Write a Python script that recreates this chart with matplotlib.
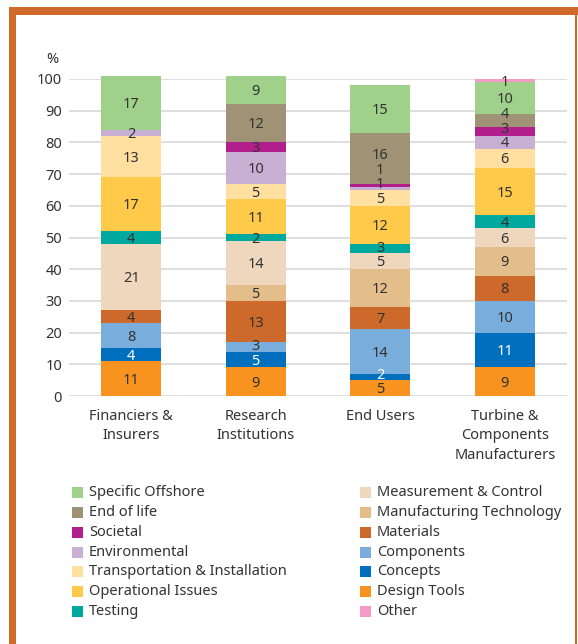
import matplotlib
matplotlib.use("Agg")
import matplotlib.pyplot as plt
from matplotlib.patches import Rectangle
import numpy as np

plt.rcParams['font.family'] = ['Noto Sans', 'DejaVu Sans']

categories = ["Financiers &\nInsurers", "Research\nInstitutions", "End Users",
              "Turbine &\nComponents\nManufacturers"]

# stacking order: bottom -> top
series = ["Design Tools", "Concepts", "Components", "Materials",
          "Manufacturing Technology", "Measurement & Control", "Testing",
          "Operational Issues", "Transportation & Installation", "Environmental",
          "Societal", "End of life", "Specific Offshore", "Other"]

design_tools   = [11, 9, 5, 9]
concepts       = [4, 5, 2, 11]
components     = [8, 3, 14, 10]
materials      = [4, 13, 7, 8]
manufacturing  = [0, 5, 12, 9]
measurement    = [21, 14, 5, 6]
testing        = [4, 2, 3, 4]
operational    = [17, 11, 12, 15]
transportation = [13, 5, 5, 6]
environmental  = [2, 10, 1, 4]
societal       = [0, 3, 1, 3]
end_of_life    = [0, 12, 16, 4]
specific_off   = [17, 9, 15, 10]
other          = [0, 0, 0, 1]

values = [design_tools, concepts, components, materials, manufacturing, measurement,
          testing, operational, transportation, environmental, societal,
          end_of_life, specific_off, other]

colors = {
    "Specific Offshore": "#A0D18A",
    "End of life": "#A09274",
    "Societal": "#B31E8D",
    "Environmental": "#C8B0D5",
    "Transportation & Installation": "#FFE0A0",
    "Operational Issues": "#FFC94A",
    "Testing": "#00A99D",
    "Measurement & Control": "#EFD7BD",
    "Manufacturing Technology": "#E3BE8A",
    "Materials": "#CD6A2B",
    "Components": "#79ADDC",
    "Concepts": "#0070BE",
    "Design Tools": "#F7931E",
    "Other": "#F39AC5",
}

legend_left = ["Specific Offshore", "End of life", "Societal", "Environmental",
               "Transportation & Installation", "Operational Issues", "Testing"]
legend_right = ["Measurement & Control", "Manufacturing Technology", "Materials",
                "Components", "Concepts", "Design Tools", "Other"]

yticks = [0, 10, 20, 30, 40, 50, 60, 70, 80, 90, 100]

W, H = 578, 644
fig = plt.figure(figsize=(W / 100, H / 100), dpi=100)
fig.patch.set_facecolor("white")

# orange frame
border = "#CF6A2B"
fig.patches.append(Rectangle((9 / W, 0), 7 / W, (H - 7) / H, transform=fig.transFigure,
                             facecolor=border, edgecolor="none", zorder=0))
fig.patches.append(Rectangle((9 / W, (H - 15) / H), (W - 9) / W, 8 / H,
                             transform=fig.transFigure, facecolor=border,
                             edgecolor="none", zorder=0))
fig.patches.append(Rectangle((574.5 / W, 0), 2.5 / W, (H - 7) / H, transform=fig.transFigure,
                             facecolor=border, edgecolor="none", zorder=0))

ax = fig.add_axes([69 / W, (H - 396) / H, (567 - 69) / W, (396 - 79) / H])
ax.set_facecolor("none")

x = np.arange(len(categories))
bottom = np.zeros(len(categories))
label_pos = [[] for _ in categories]
txt_color = "#333333"
fs = 10.5
for name, vals in zip(series, values):
    vals = np.array(vals, dtype=float)
    ax.bar(x, vals, bottom=bottom, width=0.48, color=colors[name], zorder=3,
           clip_on=False)
    for i, v in enumerate(vals):
        if v > 0:
            c = bottom[i] + v / 2
            prev = label_pos[i][-1] if label_pos[i] else -10
            y = max(c, prev + 4.6)
            label_pos[i].append(y)
            ax.text(x[i], y - 0.5, f"{int(v)}", ha="center", va="center", fontsize=fs,
                    color="white" if name == "Concepts" else txt_color, zorder=4,
                    clip_on=False)
    bottom += vals

ax.set_xlim(-0.5, len(categories) - 0.5)
ax.set_ylim(0, 100)
ax.set_yticks(yticks)
ax.set_yticklabels([str(t) for t in yticks], fontsize=fs, color=txt_color)
ax.set_xticks(x)
ax.set_xticklabels(categories, fontsize=fs, color=txt_color, linespacing=1.45)
ax.tick_params(axis="both", length=0)
ax.tick_params(axis="y", pad=5)
ax.tick_params(axis="x", pad=9)
for s in ax.spines.values():
    s.set_visible(False)
ax.yaxis.grid(True, color="#D9D9D9", linewidth=1.2, zorder=0)
ax.set_axisbelow(True)
ax.text(-0.022, 1.062, "%", transform=ax.transAxes, ha="right", va="center",
        fontsize=fs, color=txt_color)

# legend
row0 = 492.7
dy = 19.8
for col, (names, mx) in enumerate([(legend_left, 72), (legend_right, 360)]):
    for r, name in enumerate(names):
        yc = row0 + r * dy
        fig.patches.append(Rectangle((mx / W, (H - yc - 5.5) / H), 11 / W, 11 / H,
                                     transform=fig.transFigure, facecolor=colors[name],
                                     edgecolor="none"))
        fig.text((mx + 17) / W, (H - yc) / H, name, ha="left", va="center",
                 fontsize=fs, color=txt_color)

fig.savefig("out.png", dpi=100)
